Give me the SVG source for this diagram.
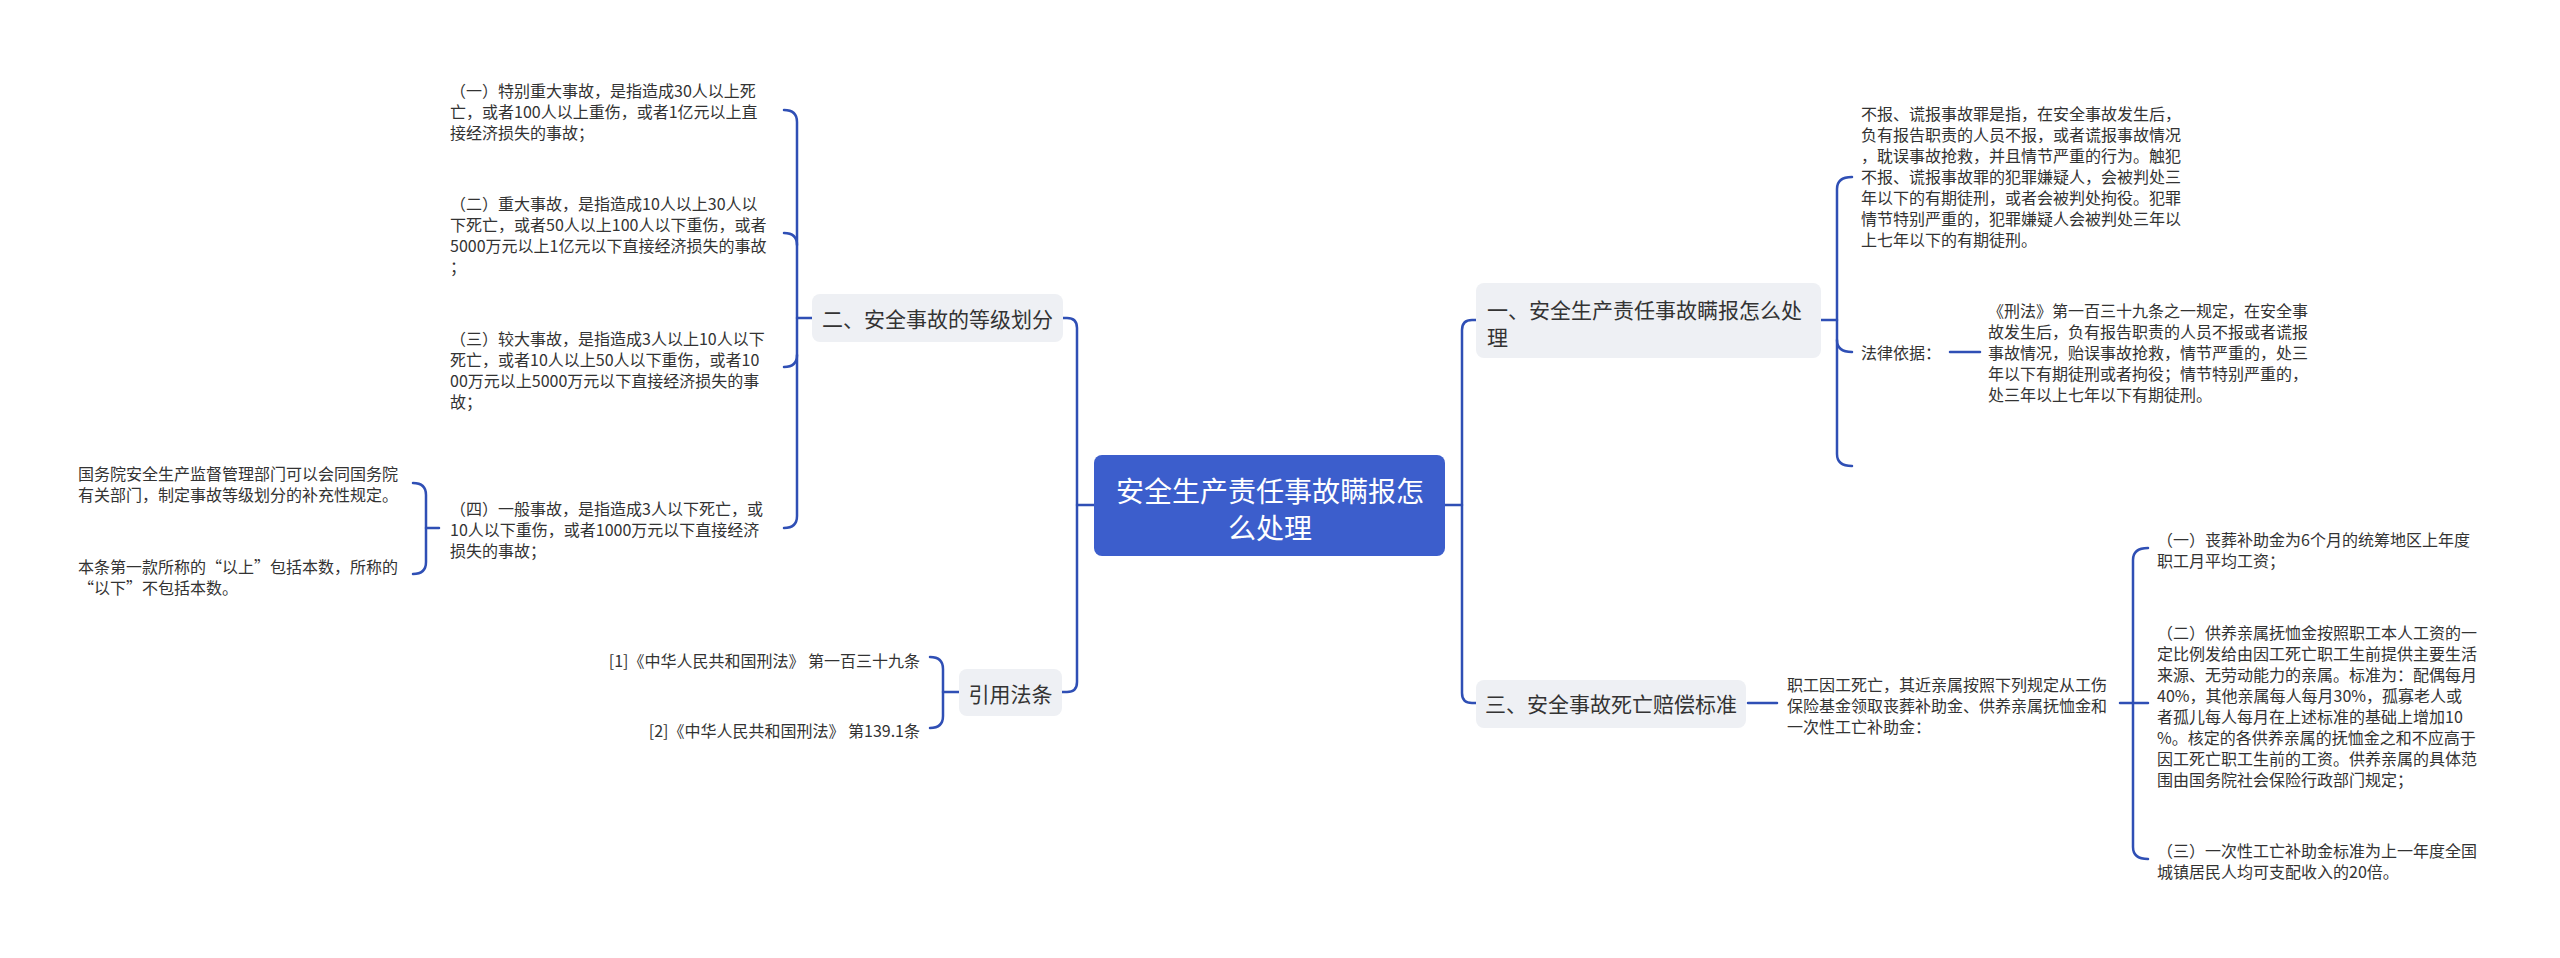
<svg xmlns="http://www.w3.org/2000/svg" width="2560" height="958" viewBox="0 0 2560 958">
<style>
text{font-family:"Noto Sans CJK SC","Noto Sans",sans-serif;fill:#333;dominant-baseline:central}
.t{font-size:16px}
.n{font-size:21px}
.c{font-size:28px;fill:#fff}
.box{fill:#eef0f4}
.ln{fill:none;stroke:#2f4fb5;stroke-width:2.5;stroke-linecap:round}
</style>
<rect width="2560" height="958" fill="#fff"/>
<g id="connectors">
<path class="ln" d="M1063,318 H1067 Q1077,318 1077,328 V682 Q1077,692 1067,692 H1062"/>
<path class="ln" d="M1077,505 H1094"/>
<path class="ln" d="M1476,320 H1472 Q1462,320 1462,330 V693 Q1462,703 1472,703 H1476"/>
<path class="ln" d="M1445,505 H1462"/>
<path class="ln" d="M784,110 Q797,110 797,122 V516 Q797,528 784,528"/>
<path class="ln" d="M784,233 Q797,233 797,245"/>
<path class="ln" d="M784,367 Q797,367 797,355"/>
<path class="ln" d="M797,318 H812"/>
<path class="ln" d="M413,483 Q426,483 426,495 V562 Q426,574 413,574"/>
<path class="ln" d="M426,528 H439"/>
<path class="ln" d="M930,657 Q943,657 943,669 V716 Q943,728 930,728"/>
<path class="ln" d="M943,692 H959"/>
<path class="ln" d="M1852,177 Q1837,177 1837,189 V454 Q1837,466 1852,466"/>
<path class="ln" d="M1837,340 Q1837,352 1852,352"/>
<path class="ln" d="M1821,320 H1837"/>
<path class="ln" d="M1950,352 H1980"/>
<path class="ln" d="M1748,703 H1777"/>
<path class="ln" d="M2148,548 Q2133,548 2133,560 V847 Q2133,859 2148,859"/>
<path class="ln" d="M2120,703 H2148"/>
</g>
<g id="root">
<rect x="1094" y="455" width="351" height="101" rx="8" fill="#3c5ecc"/>
<text class="c" x="1270" y="490" text-anchor="middle">安全生产责任事故瞒报怎</text>
<text class="c" x="1270" y="527" text-anchor="middle">么处理</text>
</g>
<g id="n2">
<rect class="box" x="812" y="294" width="251" height="48" rx="8"/>
<text class="n" x="937.5" y="318" text-anchor="middle">二、安全事故的等级划分</text>
</g>
<g id="n2-1">
<text class="t" x="450" y="90">（一）特别重大事故，是指造成30人以上死</text>
<text class="t" x="450" y="111">亡，或者100人以上重伤，或者1亿元以上直</text>
<text class="t" x="450" y="132">接经济损失的事故；</text>
</g>
<g id="n2-2">
<text class="t" x="450" y="203">（二）重大事故，是指造成10人以上30人以</text>
<text class="t" x="450" y="224">下死亡，或者50人以上100人以下重伤，或者</text>
<text class="t" x="450" y="245">5000万元以上1亿元以下直接经济损失的事故</text>
<text class="t" x="450" y="266">；</text>
</g>
<g id="n2-3">
<text class="t" x="450" y="338">（三）较大事故，是指造成3人以上10人以下</text>
<text class="t" x="450" y="359">死亡，或者10人以上50人以下重伤，或者10</text>
<text class="t" x="450" y="380">00万元以上5000万元以下直接经济损失的事</text>
<text class="t" x="450" y="401">故；</text>
</g>
<g id="n2-4">
<text class="t" x="450" y="508">（四）一般事故，是指造成3人以下死亡，或</text>
<text class="t" x="450" y="529">10人以下重伤，或者1000万元以下直接经济</text>
<text class="t" x="450" y="550">损失的事故；</text>
</g>
<g id="n2-4-1">
<text class="t" x="78" y="473">国务院安全生产监督管理部门可以会同国务院</text>
<text class="t" x="78" y="494">有关部门，制定事故等级划分的补充性规定。</text>
</g>
<g id="n2-4-2">
<text class="t" x="78" y="566">本条第一款所称的“以上”包括本数，所称的</text>
<text class="t" x="78" y="587">“以下”不包括本数。</text>
</g>
<g id="n4">
<rect class="box" x="959" y="669" width="103" height="47" rx="8"/>
<text class="n" x="1010.5" y="693" text-anchor="middle">引用法条</text>
</g>
<g id="n4-1">
<text class="t" x="920" y="660" text-anchor="end">[1]《中华人民共和国刑法》 第一百三十九条</text>
</g>
<g id="n4-2">
<text class="t" x="920" y="730" text-anchor="end">[2]《中华人民共和国刑法》 第139.1条</text>
</g>
<g id="n1">
<rect class="box" x="1476" y="283" width="345" height="75" rx="8"/>
<text class="n" x="1487" y="309">一、安全生产责任事故瞒报怎么处</text>
<text class="n" x="1487" y="336">理</text>
</g>
<g id="n1-1">
<text class="t" x="1861" y="113">不报、谎报事故罪是指，在安全事故发生后，</text>
<text class="t" x="1861" y="134">负有报告职责的人员不报，或者谎报事故情况</text>
<text class="t" x="1861" y="155">，耽误事故抢救，并且情节严重的行为。触犯</text>
<text class="t" x="1861" y="176">不报、谎报事故罪的犯罪嫌疑人，会被判处三</text>
<text class="t" x="1861" y="197">年以下的有期徒刑，或者会被判处拘役。犯罪</text>
<text class="t" x="1861" y="218">情节特别严重的，犯罪嫌疑人会被判处三年以</text>
<text class="t" x="1861" y="239">上七年以下的有期徒刑。</text>
</g>
<g id="n1-2">
<text class="t" x="1861" y="352">法律依据：</text>
</g>
<g id="n1-2-1">
<text class="t" x="1988" y="310">《刑法》第一百三十九条之一规定，在安全事</text>
<text class="t" x="1988" y="331">故发生后，负有报告职责的人员不报或者谎报</text>
<text class="t" x="1988" y="352">事故情况，贻误事故抢救，情节严重的，处三</text>
<text class="t" x="1988" y="373">年以下有期徒刑或者拘役；情节特别严重的，</text>
<text class="t" x="1988" y="394">处三年以上七年以下有期徒刑。</text>
</g>
<g id="n3">
<rect class="box" x="1476" y="680" width="270" height="48" rx="8"/>
<text class="n" x="1611" y="703" text-anchor="middle">三、安全事故死亡赔偿标准</text>
</g>
<g id="n3-1">
<text class="t" x="1787" y="684">职工因工死亡，其近亲属按照下列规定从工伤</text>
<text class="t" x="1787" y="705">保险基金领取丧葬补助金、供养亲属抚恤金和</text>
<text class="t" x="1787" y="726">一次性工亡补助金：</text>
</g>
<g id="n3-1-1">
<text class="t" x="2157" y="539">（一）丧葬补助金为6个月的统筹地区上年度</text>
<text class="t" x="2157" y="560">职工月平均工资；</text>
</g>
<g id="n3-1-2">
<text class="t" x="2157" y="632">（二）供养亲属抚恤金按照职工本人工资的一</text>
<text class="t" x="2157" y="653">定比例发给由因工死亡职工生前提供主要生活</text>
<text class="t" x="2157" y="674">来源、无劳动能力的亲属。标准为：配偶每月</text>
<text class="t" x="2157" y="695">40%，其他亲属每人每月30%，孤寡老人或</text>
<text class="t" x="2157" y="716">者孤儿每人每月在上述标准的基础上增加10</text>
<text class="t" x="2157" y="737">%。核定的各供养亲属的抚恤金之和不应高于</text>
<text class="t" x="2157" y="758">因工死亡职工生前的工资。供养亲属的具体范</text>
<text class="t" x="2157" y="779">围由国务院社会保险行政部门规定；</text>
</g>
<g id="n3-1-3">
<text class="t" x="2157" y="850">（三）一次性工亡补助金标准为上一年度全国</text>
<text class="t" x="2157" y="871">城镇居民人均可支配收入的20倍。</text>
</g>
</svg>
